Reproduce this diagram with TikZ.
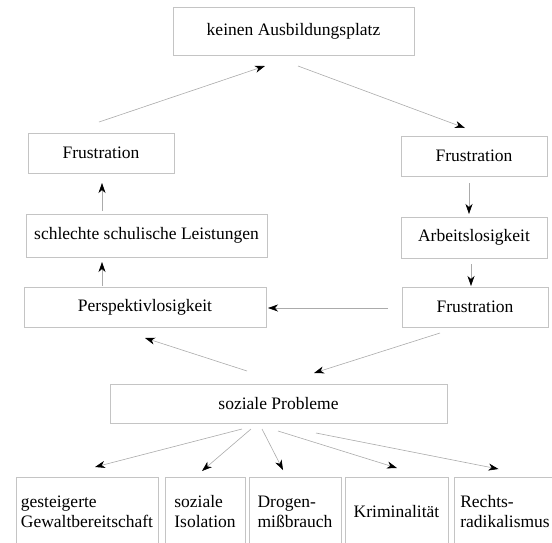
\documentclass[tikz,border=0pt]{standalone}
\usepackage{fontspec}
\setmainfont{Liberation Serif}
\usetikzlibrary{arrows.meta}
\definecolor{boxgray}{HTML}{C4C4C4}
\definecolor{linegray}{HTML}{ABABAB}

\begin{document}
\begin{tikzpicture}[x=1pt, y=-1pt]

\tikzset{box/.style = {shape=rectangle, draw=boxgray, line width=0.8pt, inner sep=0pt, outer sep=0pt, align=left, font=\fontsize{17.5}{20}\selectfont}}
\tikzset{edge/.style = {draw=linegray, line width=0.6pt, -{Stealth[black, length=10pt, width=7pt, inset=3pt]}}}
\useasboundingbox (0,0) rectangle (552,542);
%boxes
\node[box, minimum width=241pt, minimum height=48pt] (ausb) at (293.5,31) {keinen Ausbildungsplatz};
\node[box, minimum width=146pt, minimum height=40pt] (frustl) at (101,153) {Frustration};
\node[box, minimum width=146pt, minimum height=40pt] (frustr) at (474,156) {Frustration};
\node[box, minimum width=241pt, minimum height=43pt] (schule) at (146.5,235.5) {schlechte schulische Leistungen};
\node[box, minimum width=146pt, minimum height=41pt] (arbeit) at (474,237.5) {Arbeitslosigkeit};
\node[box, minimum width=242pt, minimum height=40pt] (persp) at (145,307) {Perspektivlosigkeit};
\node[box, minimum width=146pt, minimum height=40pt] (frustu) at (475,307) {Frustration};
\node[box, minimum width=337pt, minimum height=39pt] (sozial) at (278.5,403.5) {soziale Probleme};
\node[box, minimum width=142pt, minimum height=70pt] (gewalt) at (87,512) {gesteigerte\\Gewaltbereitschaft};
\node[box, minimum width=80pt, minimum height=70pt] (isol) at (205,512) {soziale\\Isolation};
\node[box, minimum width=92pt, minimum height=70pt] (drogen) at (295,512) {Drogen-\\mißbrauch};
\node[box, minimum width=103pt, minimum height=70pt] (krimi) at (396.5,512) {Kriminalität};
\node[box, minimum width=102pt, minimum height=70pt] (rechts) at (505,512) {Rechts-\\radikalismus};
%edges
\draw[edge] ([xshift=-2pt, yshift=11pt]frustl.north) -- ([xshift=-28.5pt, yshift=-11pt]ausb.south);
\draw[edge] ([xshift=4.5pt, yshift=-11pt]ausb.south) -- ([xshift=-9pt, yshift=8pt]frustr.north);
\draw[edge] ([xshift=-5pt, yshift=-7pt]frustr.south) -- ([xshift=-5pt, yshift=3pt]arbeit.north);
\draw[edge] ([xshift=-3pt, yshift=-6pt]arbeit.south) -- ([xshift=-4pt, yshift=1pt]frustu.north);
\draw[edge] ([xshift=-14pt, yshift=-1pt]frustu.west) -- ([xshift=2pt, yshift=-1pt]persp.east);
\draw[edge] ([xshift=-35pt, yshift=-6pt]frustu.south) -- ([xshift=35.5pt, yshift=11pt]sozial.north);
\draw[edge] ([xshift=-31.5pt, yshift=13pt]sozial.north) -- ([yshift=-11pt]persp.south);
\draw[edge] ([xshift=-43pt, yshift=1pt]persp.north) -- ([xshift=-44.5pt, yshift=-5pt]schule.south);
\draw[edge] ([xshift=-44.5pt, yshift=3pt]schule.north) -- ([xshift=1pt, yshift=-10pt]frustl.south);
\draw[edge] ([xshift=-36.5pt, yshift=-6pt]sozial.south) -- ([xshift=8pt, yshift=10pt]gewalt.north);
\draw[edge] ([xshift=-27.5pt, yshift=-6pt]sozial.south) -- ([xshift=-3pt, yshift=6pt]isol.north);
\draw[edge] ([xshift=-16.5pt, yshift=-6pt]sozial.south) -- ([xshift=-12pt, yshift=7pt]drogen.north);
\draw[edge] ([xshift=-0.5pt, yshift=-8pt]sozial.south) -- ([xshift=0.5pt, yshift=9pt]krimi.north);
\draw[edge] ([xshift=37.5pt, yshift=-10pt]sozial.south) -- ([xshift=-6.5pt, yshift=8pt]rechts.north);

\end{tikzpicture}
\end{document}
